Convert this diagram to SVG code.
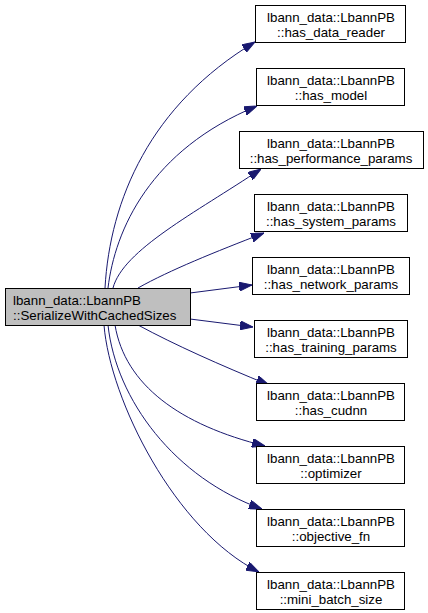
<svg xmlns="http://www.w3.org/2000/svg" width="428" height="613" viewBox="0 0 428 613">
<style>
.n rect{fill:#ffffff;stroke:#000000;stroke-width:1}
.n.root rect{fill:#bfbfbf}
text{font-family:"Liberation Sans",Arial,Helvetica,sans-serif;font-size:13.3px;fill:#000000}
.c{text-anchor:middle}
.e path{fill:none;stroke:#191970;stroke-width:1;marker-end:url(#ah)}
</style>
<defs>
<marker id="ah" viewBox="0 0 13 9" refX="13" refY="4.5" markerWidth="13" markerHeight="9" markerUnits="userSpaceOnUse" orient="auto">
<path d="M0,0 L13,4.5 L0,9 Z" fill="#191970" stroke="#191970" stroke-width="1"/>
</marker>
</defs>
<g id="edges" class="e">
<path d="M105,288 C110,200 150,105 255,42"/>
<path d="M108,288 C115,230 150,150 257,106"/>
<path d="M113,288 C123,250 195,213 261,169"/>
<path d="M138,288 C170,270 215,252 264,233"/>
<path d="M190,293 L252,285"/>
<path d="M190,319 L253,327"/>
<path d="M138,325 C175,345 220,365 269,385"/>
<path d="M115,325 C125,385 180,425 265,446"/>
<path d="M108,325 C116,400 175,478 262,509"/>
<path d="M104,325 C110,400 175,530 259,572"/>
</g>
<g id="node_root" class="n root">
<rect x="5.5" y="288.5" width="185" height="37"/>
<text x="13" y="305">lbann_data::LbannPB</text>
<text x="13" y="320">::SerializeWithCachedSizes</text>
</g>
<g id="node_has_data_reader" class="n">
<rect x="255.5" y="5.5" width="150" height="37"/>
<text class="c" x="331" y="22">lbann_data::LbannPB</text>
<text class="c" x="331" y="37">::has_data_reader</text>
</g>
<g id="node_has_model" class="n">
<rect x="256.5" y="68.5" width="148" height="37"/>
<text class="c" x="331" y="85">lbann_data::LbannPB</text>
<text class="c" x="331" y="100">::has_model</text>
</g>
<g id="node_has_performance_params" class="n">
<rect x="239.5" y="131.5" width="184" height="37"/>
<text class="c" x="331" y="148">lbann_data::LbannPB</text>
<text class="c" x="331" y="163">::has_performance_params</text>
</g>
<g id="node_has_system_params" class="n">
<rect x="254.5" y="194.5" width="153" height="37"/>
<text class="c" x="331" y="211">lbann_data::LbannPB</text>
<text class="c" x="331" y="226">::has_system_params</text>
</g>
<g id="node_has_network_params" class="n">
<rect x="252.5" y="257.5" width="157" height="37"/>
<text class="c" x="331" y="274">lbann_data::LbannPB</text>
<text class="c" x="331" y="289">::has_network_params</text>
</g>
<g id="node_has_training_params" class="n">
<rect x="254.5" y="320.5" width="153" height="37"/>
<text class="c" x="331" y="337">lbann_data::LbannPB</text>
<text class="c" x="331" y="352">::has_training_params</text>
</g>
<g id="node_has_cudnn" class="n">
<rect x="256.5" y="383.5" width="148" height="37"/>
<text class="c" x="331" y="400">lbann_data::LbannPB</text>
<text class="c" x="331" y="415">::has_cudnn</text>
</g>
<g id="node_optimizer" class="n">
<rect x="256.5" y="446.5" width="148" height="37"/>
<text class="c" x="331" y="463">lbann_data::LbannPB</text>
<text class="c" x="331" y="478">::optimizer</text>
</g>
<g id="node_objective_fn" class="n">
<rect x="256.5" y="509.5" width="148" height="37"/>
<text class="c" x="331" y="526">lbann_data::LbannPB</text>
<text class="c" x="331" y="541">::objective_fn</text>
</g>
<g id="node_mini_batch_size" class="n">
<rect x="256.5" y="572.5" width="148" height="37"/>
<text class="c" x="331" y="589">lbann_data::LbannPB</text>
<text class="c" x="331" y="604">::mini_batch_size</text>
</g>
</svg>
